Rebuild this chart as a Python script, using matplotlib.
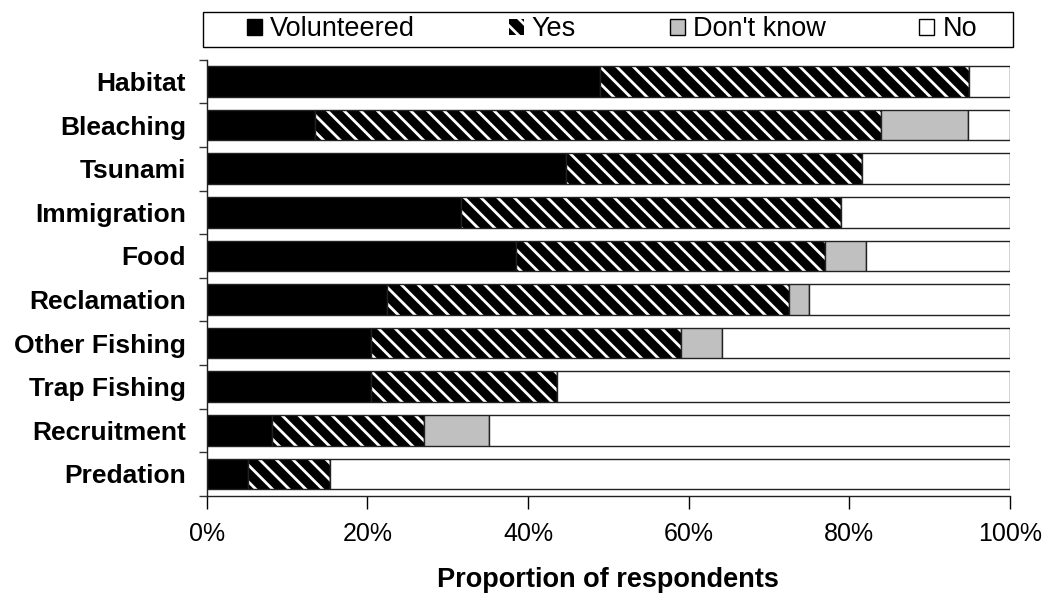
import matplotlib
matplotlib.use("Agg")
import matplotlib.pyplot as plt
from matplotlib.patches import Patch, Rectangle
from matplotlib.ticker import FixedLocator, PercentFormatter
import numpy as np

plt.rcParams['font.family'] = ['Liberation Sans', 'DejaVu Sans']
plt.rcParams['hatch.linewidth'] = 2.0

categories = ["Habitat", "Bleaching", "Tsunami", "Immigration", "Food",
              "Reclamation", "Other Fishing", "Trap Fishing", "Recruitment", "Predation"]
volunteered = [48.9, 13.5, 44.7, 31.6, 38.5, 22.4, 20.5, 20.5, 8.1, 5.2]
yes = [46.0, 70.4, 36.9, 47.4, 38.5, 50.1, 38.5, 23.1, 19.0, 10.1]
dont_know = [0.0, 10.9, 0.0, 0.0, 5.1, 2.5, 5.2, 0.0, 8.1, 0.0]
series_names = ["Volunteered", "Yes", "Don't know", "No"]
xticks = [0, 20, 40, 60, 80, 100]

no = [100 - v - y - d for v, y, d in zip(volunteered, yes, dont_know)]

fig = plt.figure(figsize=(10.48, 5.93), dpi=100)
ax = fig.add_axes([206.7/1048, 1-495.7/593, (1010-206.7)/1048, (495.7-59.7)/593])

ypos = np.arange(len(categories))
h = 0.7
edge = '#222222'
left = np.zeros(len(categories))
ax.barh(ypos, volunteered, left=left, height=h, color='black', edgecolor=edge, linewidth=1.0)
left += volunteered
# Yes: black with white diagonal stripes
ax.barh(ypos, yes, left=left, height=h, color='black', edgecolor='white', hatch='\\\\', linewidth=0)
ax.barh(ypos, yes, left=left, height=h, facecolor='none', edgecolor=edge, linewidth=1.0)
left += yes
ax.barh(ypos, dont_know, left=left, height=h, color='#c0c0c0', edgecolor=edge, linewidth=1.0)
left += dont_know
ax.barh(ypos, no, left=left, height=h, color='white', edgecolor=edge, linewidth=1.0)

ax.set_xlim(0, 100)
ax.set_ylim(len(categories) - 0.5, -0.5)
ax.set_xticks(xticks)
ax.xaxis.set_major_formatter(PercentFormatter(decimals=0))
ax.set_yticks(ypos)
ax.set_yticklabels(categories, fontsize=19, fontweight='bold')
ax.yaxis.set_minor_locator(FixedLocator(np.arange(len(categories) + 1) - 0.5))
ax.tick_params(axis='y', which='major', length=0, pad=15)
ax.tick_params(axis='y', which='minor', length=6, width=1, color='#333333', direction='out')
ax.tick_params(axis='x', which='major', length=9, width=1, direction='out', labelsize=18, pad=10)
for s in ['top', 'right']:
    ax.spines[s].set_visible(False)
for s in ['left', 'bottom']:
    ax.spines[s].set_linewidth(1.0)
    ax.spines[s].set_color('#222222')

fig.text(607.5/1048, 1-587/593, "Proportion of respondents", fontsize=19.5,
         fontweight='bold', ha='center', va='baseline')

# legend
fig.patches.append(Rectangle((203/1048, 1-47/593), (1013-203)/1048, 35/593,
                             transform=fig.transFigure, facecolor='white', edgecolor='black',
                             linewidth=1.0, zorder=0))
handles = [Patch(facecolor='black', edgecolor='black'),
           Patch(facecolor='black', edgecolor='white', hatch='\\\\', linewidth=0),
           Patch(facecolor='#c0c0c0', edgecolor='black'),
           Patch(facecolor='white', edgecolor='black')]
leg = fig.legend(handles, series_names, loc='center', ncol=4, mode='expand',
                 bbox_to_anchor=(247/1048, 1-45/593, (977-247)/1048, 31/593),
                 frameon=False, fontsize=19.5, handlelength=0.55, handleheight=0.55,
                 handletextpad=0.3, borderaxespad=0, borderpad=0)

fig.savefig("out.png", dpi=100)
